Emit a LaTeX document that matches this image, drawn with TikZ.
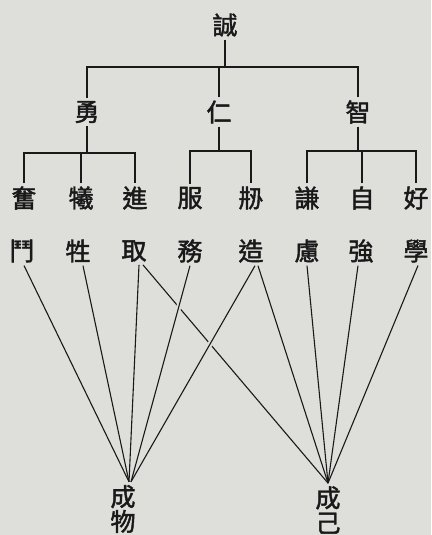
\documentclass[tikz,border=0pt]{standalone}
\usepackage{fontspec}
\newfontfamily\cjk{Noto Sans CJK TC}[FakeBold=1.8]
\usepackage{tikz}
\definecolor{paper}{RGB}{222,222,219}
\definecolor{ink}{RGB}{25,25,25}
\tikzset{
  word/.style={font=\cjk\fontsize{25}{25}\selectfont,text=ink,inner sep=3pt},
  tree/.style={draw=ink,line width=2.6pt},
  fan/.style={draw=ink,line width=1.1pt},
  gap/.style={preaction={draw=paper,line width=5pt,shorten >=120pt}}
}

\begin{document}
\begin{tikzpicture}[x=1pt,y=-1pt]
    \fill[paper] (0,0) rectangle (431,535);
    \useasboundingbox (0,0) rectangle (431,535);
    \node[word] (cheng) at (225,25) {誠};
    \foreach\n/\x/\t in {yong/87/勇,ren/219/仁,zhi/358/智}
     \node[word] (\n) at (\x,112) {\t};
    \foreach\n/\x/\t in {fen/24/奮,xi/81/犧,jin/135/進,fu/190/服,chuang/251/刱,qian/307/謙,zi/362/自,hao/416/好}
     \node[word] (\n) at (\x,198) {\t};
    \foreach\n/\x/\t in {dou/22/鬥,sheng/78/牲,qu/134/取,wu/190/務,zao/251/造,lv/307/慮,qiang/361/強,xue/416/學}
     \node[word] (\n) at (\x,251) {\t};
    \node[word,align=center] (cw) at (123,509) {成\\物};
    \node[word,align=center] (cj) at (328,510) {成\\己};
    \draw[tree] (cheng.south) -- (cheng.south |- 0,67);
    \draw[tree] (yong.north) |- (zhi.north |- 0,67) -- (zhi.north);
    \draw[tree] (ren.north) -- (ren.north |- 0,67);
    \draw[tree] (yong.south) -- (yong.south |- 0,153);
    \draw[tree] (fen.north) |- (jin.north |- 0,153) -- (jin.north);
    \draw[tree] (xi.north) -- (xi.north |- 0,153);
    \draw[tree] (ren.south) -- (ren.south |- 0,151);
    \draw[tree] (fu.north) |- (chuang.north |- 0,151) -- (chuang.north);
    \draw[tree] (zhi.south) -- (zhi.south |- 0,151);
    \draw[tree] (qian.north) |- (hao.north |- 0,151) -- (hao.north);
    \draw[tree] (zi.north) -- (zi.north |- 0,151);
    \draw[fan] ([xshift=9pt]qu.south) -- (cj.north);
    \foreach\a/\s in {wu/0,zao/4}
     \draw[fan,gap] ([xshift=\s pt]\a.south) -- ([xshift=8pt]cw.north);
    \foreach\a/\s in {dou/2,sheng/5,qu/5}
     \draw[fan] ([xshift=\s pt]\a.south) -- ([xshift=6pt]cw.north);
    \foreach\a/\s in {zao/7,lv/0,qiang/-3,xue/2}
     \draw[fan] ([xshift=\s pt]\a.south) -- (cj.north);
  \end{tikzpicture}
\end{document}
